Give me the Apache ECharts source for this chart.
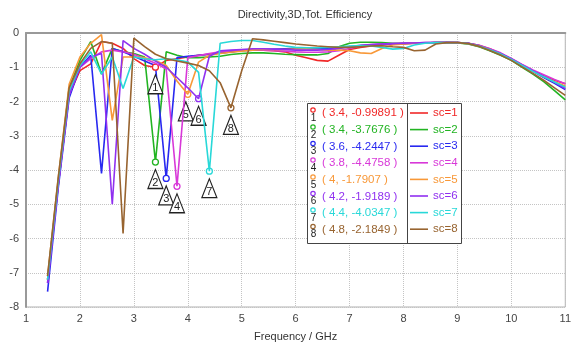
<!DOCTYPE html>
<html>
<head>
<meta charset="utf-8">
<script src="https://cdn.jsdelivr.net/npm/echarts@6/dist/echarts.min.js"></script>
<style>
  html, body { margin: 0; padding: 0; background: #fff; }
  #chart { width: 574px; height: 347px; }
</style>
</head>
<body>
<div id="chart"></div>
<script>
// frequency samples (GHz)
const freq = [1.4, 1.6, 1.8, 2.0, 2.2, 2.4, 2.6, 2.8, 3.0, 3.2, 3.4, 3.6, 3.8, 4.0, 4.2, 4.4, 4.6, 4.8, 5.0,
  5.2, 5.4, 5.6, 5.8, 6.0, 6.2, 6.4, 6.6, 6.8, 7.0, 7.2, 7.4, 7.6, 7.8, 8.0, 8.2, 8.4, 8.6, 8.8, 9.0,
  9.2, 9.4, 9.6, 9.8, 10.0, 10.2, 10.4, 10.6, 10.8, 11.0];

const sc1 = [-7.2, -4.4, -1.8, -1.1, -0.9, -0.25, -0.3, -0.45, -0.75, -0.95, -0.99891, -0.8, -0.75, -0.7, -0.65, -0.62, -0.58, -0.55, -0.5,
  -0.5, -0.5, -0.52, -0.55, -0.65, -0.72, -0.8, -0.82, -0.65, -0.48, -0.42, -0.38, -0.34, -0.32, -0.31, -0.3, -0.29, -0.28, -0.28, -0.28,
  -0.3, -0.36, -0.46, -0.6, -0.76, -0.93, -1.1, -1.25, -1.38, -1.48];
const sc2 = [-7.2, -4.3, -1.6, -0.8, -0.25, -1.2, -0.45, -0.55, -0.6, -0.7, -3.7676, -0.55, -0.65, -0.72, -0.72, -0.7, -0.68, -0.63, -0.6,
  -0.58, -0.58, -0.6, -0.62, -0.63, -0.64, -0.64, -0.6, -0.4, -0.3, -0.27, -0.27, -0.28, -0.3, -0.3, -0.3, -0.29, -0.28, -0.28, -0.29,
  -0.32, -0.4, -0.52, -0.65, -0.8, -1.0, -1.2, -1.42, -1.68, -1.95];
const sc3 = [-7.55, -4.5, -1.9, -1.0, -0.65, -4.1, -0.45, -0.55, -0.68, -0.82, -0.95, -4.2447, -0.72, -0.68, -0.65, -0.62, -0.58, -0.55, -0.52,
  -0.5, -0.48, -0.47, -0.46, -0.45, -0.45, -0.46, -0.46, -0.44, -0.4, -0.37, -0.35, -0.33, -0.32, -0.31, -0.3, -0.29, -0.28, -0.28, -0.28,
  -0.3, -0.37, -0.48, -0.6, -0.76, -0.94, -1.12, -1.3, -1.47, -1.65];
const sc4 = [-7.3, -4.4, -1.8, -1.0, -0.75, -0.55, -0.5, -0.55, -0.62, -0.75, -0.88, -1.05, -4.4758, -0.72, -0.66, -0.6, -0.55, -0.52, -0.5,
  -0.48, -0.5, -0.52, -0.53, -0.55, -0.56, -0.56, -0.55, -0.52, -0.45, -0.38, -0.34, -0.32, -0.31, -0.3, -0.29, -0.28, -0.27, -0.27, -0.28,
  -0.3, -0.36, -0.46, -0.58, -0.74, -0.92, -1.08, -1.22, -1.36, -1.48];
const sc5 = [-7.1, -4.2, -1.5, -0.7, -0.3, -0.05, -2.55, -0.7, -0.7, -0.72, -0.8, -0.95, -1.4, -1.7907, -0.85, -0.65, -0.6, -0.56, -0.53,
  -0.5, -0.48, -0.48, -0.48, -0.47, -0.46, -0.48, -0.5, -0.5, -0.52, -0.58, -0.6, -0.45, -0.35, -0.32, -0.3, -0.29, -0.28, -0.28, -0.28,
  -0.31, -0.38, -0.49, -0.61, -0.77, -0.95, -1.12, -1.28, -1.42, -1.55];
const sc6 = [-7.3, -4.4, -1.8, -1.0, -0.7, -0.6, -5.0, -0.22, -0.45, -0.62, -0.82, -1.0, -1.3, -1.6, -1.9189, -0.68, -0.52, -0.5, -0.48,
  -0.46, -0.46, -0.47, -0.48, -0.5, -0.5, -0.5, -0.48, -0.45, -0.4, -0.36, -0.34, -0.32, -0.31, -0.3, -0.29, -0.28, -0.28, -0.27, -0.28,
  -0.3, -0.37, -0.48, -0.6, -0.76, -0.93, -1.1, -1.27, -1.44, -1.62];
const sc7 = [-7.2, -4.3, -1.7, -0.95, -0.55, -1.2, -0.7, -1.62, -0.7, -0.75, -0.78, -0.75, -0.78, -0.85, -1.15, -4.0347, -0.3, -0.25, -0.22,
  -0.22, -0.27, -0.33, -0.38, -0.42, -0.43, -0.43, -0.42, -0.4, -0.38, -0.37, -0.38, -0.42, -0.47, -0.45, -0.35, -0.3, -0.28, -0.28, -0.28,
  -0.31, -0.38, -0.49, -0.61, -0.77, -0.95, -1.12, -1.28, -1.43, -1.58];
const sc8 = [-7.1, -4.2, -1.6, -0.9, -0.45, -0.25, -0.3, -5.85, -0.15, -0.4, -0.62, -0.75, -0.82, -0.88, -0.95, -1.1, -1.45, -2.1849, -1.1,
  -0.17, -0.2, -0.24, -0.28, -0.32, -0.35, -0.38, -0.4, -0.42, -0.42, -0.4, -0.38, -0.37, -0.4, -0.42, -0.52, -0.5, -0.32, -0.28, -0.28,
  -0.31, -0.39, -0.51, -0.64, -0.8, -0.99, -1.18, -1.38, -1.6, -1.82];

const seriesNames = ['sc=1', 'sc=2', 'sc=3', 'sc=4', 'sc=5', 'sc=6', 'sc=7', 'sc=8'];
const seriesData = [sc1, sc2, sc3, sc4, sc5, sc6, sc7, sc8];
const colors = ['#f02828', '#22b422', '#2828f0', '#d838d8', '#f89838', '#9030f0', '#28d8d8', '#986430'];

// marker readouts
const markerX = [3.4, 3.4, 3.6, 3.8, 4, 4.2, 4.4, 4.8];
const markerY = [-0.99891, -3.7676, -4.2447, -4.4758, -1.7907, -1.9189, -4.0347, -2.1849];
const markerNum = ['1', '2', '3', '4', '5', '6', '7', '8'];

const chart = echarts.init(document.getElementById('chart'));

const series = seriesNames.map((name, i) => ({
  name: name,
  type: 'line',
  symbol: 'none',
  data: freq.map((f, j) => [f, seriesData[i][j]]),
  lineStyle: { color: colors[i], width: 1.6 },
  itemStyle: { color: colors[i] },
  z: 2 + i,
  markPoint: {
    silent: true,
    data: [
      {
        coord: [markerX[i], markerY[i]],
        symbol: 'circle',
        symbolSize: 6,
        itemStyle: { color: '#fff', borderColor: colors[i], borderWidth: 1.3 },
        label: { show: false }
      },
      {
        coord: [markerX[i], markerY[i]],
        symbol: 'triangle',
        symbolSize: [15, 19],
        symbolOffset: [i === 4 ? -2 : 0, 17],
        itemStyle: { color: '#fff', borderColor: '#222', borderWidth: 1.2 },
        label: {
          show: true,
          formatter: markerNum[i],
          position: 'inside',
          offset: [0, 4],
          color: '#222',
          fontSize: 11,
          fontFamily: 'Liberation Sans'
        }
      }
    ]
  }
}));

// left column of the legend box: marker readouts
const rowY = [113, 130, 146.5, 163, 180, 196.5, 213, 229.5];
const legendGraphics = [
  {
    type: 'rect',
    shape: { x: 307.5, y: 103.5, width: 154, height: 140 },
    style: { fill: '#fff', stroke: '#444', lineWidth: 1 },
    z: 50
  },
  {
    type: 'line',
    shape: { x1: 407.5, y1: 103.5, x2: 407.5, y2: 243.5 },
    style: { stroke: '#444', lineWidth: 1 },
    z: 51
  }
];
markerX.forEach((mx, i) => {
  legendGraphics.push({
    type: 'circle',
    shape: { cx: 313, cy: rowY[i] - 3, r: 2.2 },
    style: { fill: '#fff', stroke: colors[i], lineWidth: 1.2 },
    z: 52
  });
  legendGraphics.push({
    type: 'text',
    x: 313.5, y: rowY[i] + 5,
    style: { text: markerNum[i], fill: '#222', font: '10px "Liberation Sans"', align: 'center', verticalAlign: 'middle' },
    z: 52
  });
  legendGraphics.push({
    type: 'text',
    x: 322, y: rowY[i],
    style: { text: '( ' + mx + ', ' + markerY[i] + ' )', fill: colors[i], font: '11.5px "Liberation Sans"', verticalAlign: 'middle' },
    z: 52
  });
});

const option = {
  animation: false,
  backgroundColor: '#fff',
  color: colors,
  title: {
    text: 'Directivity,3D,Tot. Efficiency',
    left: 300,
    textAlign: 'center',
    top: 4,
    textStyle: { fontSize: 11, fontWeight: 'normal', color: '#333', fontFamily: 'Liberation Sans' }
  },
  grid: {
    left: 26, right: 1, top: 33, bottom: 32,
    show: true, borderColor: '#b0b0b0', borderWidth: 1
  },
  legend: {
    orient: 'vertical',
    left: 410,
    top: 107,
    padding: 0,
    itemWidth: 18,
    itemHeight: 12,
    itemGap: 4.6,
    z: 60,
    // plain line sample (invisible moveTo points keep the 18x12 box)
    icon: 'path://M0,0 M0,5.2 L18,5.2 L18,6.8 L0,6.8 Z M18,12',
    data: seriesNames.map((n, i) => ({ name: n, textStyle: { color: colors[i] } })),
    textStyle: { fontSize: 11.5, fontFamily: 'Liberation Sans' }
  },
  xAxis: {
    type: 'value',
    min: 1, max: 11, interval: 1,
    name: 'Frequency / GHz',
    nameLocation: 'middle',
    nameGap: 24,
    nameTextStyle: { fontSize: 11, color: '#333', fontFamily: 'Liberation Sans' },
    axisLine: { lineStyle: { color: '#999', width: 2 } },
    axisTick: { show: false },
    axisLabel: { color: '#444', fontSize: 11, margin: 6, fontFamily: 'Liberation Sans', showMaxLabel: true },
    splitLine: { show: true, lineStyle: { color: '#c4c4c4', type: 'dotted', width: 1 } }
  },
  yAxis: {
    type: 'value',
    min: -8, max: 0, interval: 1,
    axisLine: { show: true, lineStyle: { color: '#999', width: 2 } },
    axisTick: { show: false },
    axisLabel: { color: '#444', fontSize: 11, margin: 7, fontFamily: 'Liberation Sans' },
    splitLine: { show: true, lineStyle: { color: '#c4c4c4', type: 'dotted', width: 1 } }
  },
  graphic: legendGraphics,
  series: series
};

chart.setOption(option);
window.addEventListener('resize', chart.resize);
</script>
</body>
</html>
